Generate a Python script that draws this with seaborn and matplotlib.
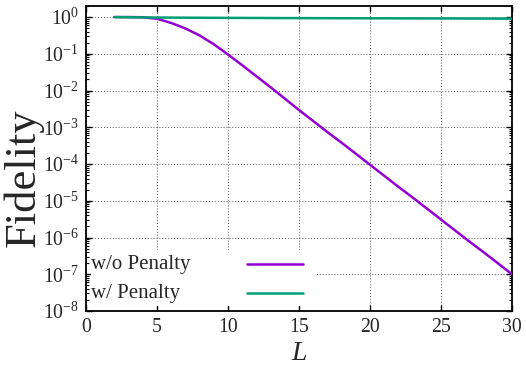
import matplotlib
matplotlib.use("Agg")
import matplotlib.pyplot as plt
import pandas as pd
import seaborn as sns
from matplotlib.lines import Line2D
from matplotlib.patches import Rectangle
from matplotlib.ticker import LogLocator, NullFormatter

# Circuit depth L and the resulting fidelity for both training schemes
L = list(range(2, 31))
fid_no_penalty = [1.0, 0.999, 0.989, 0.898, 0.692, 0.490, 0.316, 0.182, 0.0955,
                  0.049, 0.0245, 0.0123, 0.00603, 0.00295, 1.48e-3, 7.41e-4,
                  3.80e-4, 1.91e-4, 9.55e-5, 4.79e-5, 2.40e-5, 1.23e-5, 6.17e-6,
                  3.09e-6, 1.55e-6, 7.76e-7, 3.98e-7, 2.00e-7, 1.0e-7]
fid_penalty = [0.995, 0.99, 0.98, 0.972, 0.966, 0.961, 0.957, 0.953, 0.95,
               0.947, 0.944, 0.941, 0.938, 0.936, 0.934, 0.932, 0.930, 0.928,
               0.926, 0.924, 0.922, 0.920, 0.918, 0.916, 0.914, 0.912, 0.910,
               0.908, 0.906]
series_labels = ["w/o Penalty", "w/ Penalty"]
series_colors = ["#9400D3", "#009E73"]
x_ticks = [0, 5, 10, 15, 20, 25, 30]

sns.set_style("ticks")
plt.rcParams.update({
    "font.family": ["Liberation Serif", "DejaVu Serif"],
    "mathtext.fontset": "custom",
    "mathtext.rm": "Liberation Serif",
    "mathtext.it": "Liberation Serif:italic",
    "mathtext.default": "regular",
    "axes.linewidth": 1.3,
    "axes.edgecolor": "black",
})

df = pd.DataFrame({
    "L": L + L,
    "Fidelity": fid_no_penalty + fid_penalty,
    "series": [series_labels[0]] * len(L) + [series_labels[1]] * len(L),
})

fig = plt.figure(figsize=(5.26, 3.71), dpi=100)
ax = fig.add_axes([86 / 526, 1 - 311 / 371, 426 / 526, 305 / 371])

sns.lineplot(data=df, x="L", y="Fidelity", hue="series",
             hue_order=series_labels, palette=series_colors,
             linewidth=1.8, legend=False, ax=ax, zorder=3)

ax.set_yscale("log")
ax.set_xlim(0, 30)
ax.set_ylim(1e-8, 2)
ax.set_xticks(x_ticks)
ax.yaxis.set_major_locator(LogLocator(base=10, numticks=15))
ax.yaxis.set_minor_locator(LogLocator(base=10, subs=range(2, 10), numticks=15))
ax.yaxis.set_minor_formatter(NullFormatter())

ax.tick_params(which="both", direction="in", top=True, right=True,
               labelsize=14.2, color="black")
ax.tick_params(which="major", length=4.5, width=1.0, pad=5)
ax.tick_params(which="minor", length=2.5, width=0.8)
ax.tick_params(axis="x", which="minor", top=False, bottom=False)

ax.grid(True, which="major", linestyle=(0, (1, 2)), color="#555555",
        linewidth=0.7)

ax.set_ylabel("Fidelity", fontsize=32)
ax.yaxis.set_label_coords(-0.100, 0.438)
ax.set_xlabel("L", fontsize=20, fontstyle="italic")
ax.xaxis.set_label_coords(0.5, -0.097)

# Key in the lower-left corner on an opaque white patch
ax.add_patch(Rectangle((0.012, 0.016), 0.526, 0.184, transform=ax.transAxes,
                       facecolor="white", edgecolor="none", zorder=1))
key_text_y = [0.151, 0.059]
key_line_y = [0.153, 0.060]
for lab, col, ty, ly in zip(series_labels, series_colors, key_text_y, key_line_y):
    ax.text(0.011, ty, lab, transform=ax.transAxes, ha="left", va="center",
            fontsize=15, zorder=4)
    ax.add_line(Line2D([0.377, 0.510], [ly, ly], transform=ax.transAxes,
                       color=col, linewidth=1.8, zorder=4))

fig.savefig("out.png", dpi=100)
